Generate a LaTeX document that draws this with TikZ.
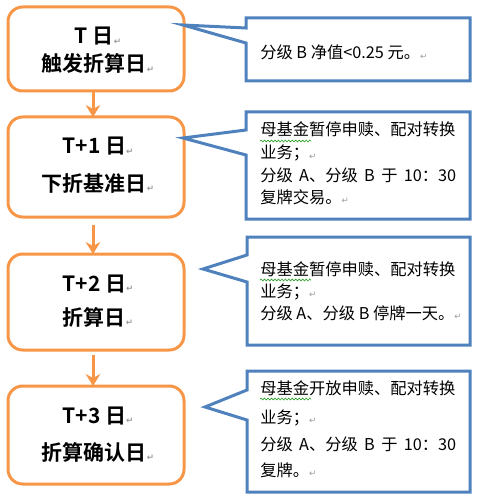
\documentclass[tikz,border=0pt]{standalone}
\usepackage{fontspec}
\setmainfont{Noto Sans CJK SC}[BoldFont={Noto Sans CJK SC Bold}]
\newfontfamily\symfont{DejaVu Sans}
\usetikzlibrary{arrows.meta,decorations.pathmorphing}
\definecolor{ora}{HTML}{F79646}
\definecolor{blu}{HTML}{4F81BD}
\definecolor{wavy}{HTML}{2EA02E}
\newcommand\retmark{{\symfont\fontsize{6.5}{7}\selectfont\color{gray!80}\raisebox{-0.5pt}{↵}}}
\tikzset{
  obox/.style={draw=ora, line width=2.25pt, rounded corners=11pt, minimum width=132pt, inner sep=0pt},
  bshape/.style={draw=blu, line width=2.25pt, line join=miter},
  ltext/.style={anchor=base, inner sep=0pt, font=\bfseries\fontsize{15.75}{16}\selectfont},
  rtext/.style={anchor=base west, inner sep=0pt, font=\fontsize{12.2}{13}\selectfont},
  arr/.style={draw=ora, line width=2.25pt, -{Stealth[length=9pt,width=11pt,inset=3pt]}},
  wav/.style={draw=wavy, line width=0.5pt, decorate, decoration={snake, amplitude=0.7pt, segment length=2.6pt}}
}
\begin{document}
\begin{tikzpicture}[x=0.75pt,y=-0.75pt]
\useasboundingbox (0,0) rectangle (484,502);
% left boxes
\node[obox, minimum height=63pt] (b1) at (96,49) {};
\node[obox, minimum height=75pt] (b2) at (96,167) {};
\node[obox, minimum height=72pt] (b3) at (96,302) {};
\node[obox, minimum height=73.5pt] (b4) at (96,435) {};
\node[ltext] (b1a) at (98,44) {T 日\retmark};
\node[ltext] (b1b) at (98,72) {触发折算日\retmark};
\node[ltext] (b2a) at (98,154) {T+1 日\retmark};
\node[ltext] (b2b) at (98,191) {下折基准日\retmark};
\node[ltext] (b3a) at (98,291) {T+2 日\retmark};
\node[ltext] (b3b) at (98,325) {折算日\retmark};
\node[ltext] (b4a) at (98,423) {T+3 日\retmark};
\node[ltext] (b4b) at (98,460) {折算确认日\retmark};
% arrows
\coordinate (a1s) at (93,91);  \coordinate (a1e) at (93,117);
\coordinate (a2s) at (93,225); \coordinate (a2e) at (93,254);
\coordinate (a3s) at (93,355); \coordinate (a3e) at (93,386);
\draw[arr] (a1s) -- (a1e);
\draw[arr] (a2s) -- (a2e);
\draw[arr] (a3s) -- (a3e);
% callouts
\draw[bshape] (183,25) -- (246,28) -- (246,18) -- (470,18) -- (470,81) -- (246,81) -- (246,43) -- cycle;
\draw[bshape] (183,138) -- (246,130) -- (246,112) -- (470,112) -- (470,219) -- (246,219) -- (246,155) -- cycle;
\draw[bshape] (203,269) -- (247,255) -- (247,237) -- (470,237) -- (470,345) -- (247,345) -- (247,282) -- cycle;
\draw[bshape] (205,407) -- (247,390) -- (247,371) -- (470,371) -- (470,492) -- (247,492) -- (247,420) -- cycle;
% callout texts
\node[rtext] (c1a) at (260,59) {分级 B 净值<0.25 元。\retmark};
\node[rtext] (c2a) at (260,136) {母基金暂停申赎、配对转换};
\node[rtext] (c2b) at (260,159) {业务；\retmark};
\node[rtext] (c2c) at (260,181) {\makebox[147pt][s]{分级 A、分级 B 于 10：30}};
\node[rtext] (c2d) at (260,203) {复牌交易。\retmark};
\node[rtext] (c3a) at (260,275) {母基金暂停申赎、配对转换};
\node[rtext] (c3b) at (260,297) {业务；\retmark};
\node[rtext] (c3c) at (260,319) {分级 A、分级 B 停牌一天。\retmark};
\node[rtext] (c4a) at (260,394) {母基金开放申赎、配对转换};
\node[rtext] (c4b) at (260,423) {业务；\retmark};
\node[rtext] (c4c) at (260,450) {\makebox[147pt][s]{分级 A、分级 B 于 10：30}};
\node[rtext] (c4d) at (260,476) {复牌。\retmark};
% spell-check wavy underlines
\draw[wav] (260,141) -- (311,141);
\draw[wav] (260,280) -- (311,280);
\draw[wav] (260,399) -- (311,399);
\end{tikzpicture}
\end{document}
